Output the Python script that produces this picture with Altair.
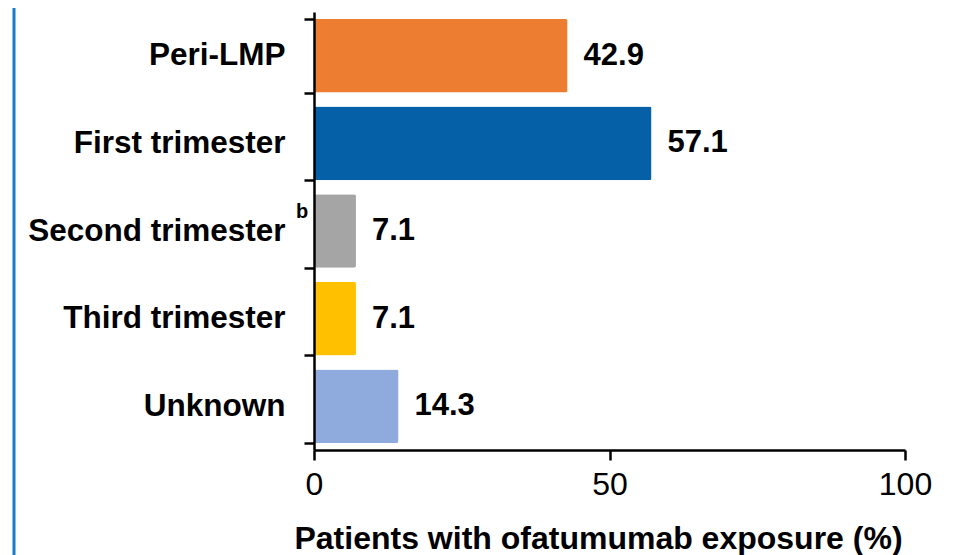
import altair as alt
import pandas as pd

categories = ["Peri-LMP", "First trimester", "Second trimester", "Third trimester", "Unknown"]
values = [42.9, 57.1, 7.1, 7.1, 14.3]
value_labels = ["42.9", "57.1", "7.1", "7.1", "14.3"]
footnotes = ["", "", "b", "", ""]
colors = ["#ED7D31", "#0560A8", "#A5A5A5", "#FFC000", "#8FAADC"]
x_ticks = [0, 50, 100]
x_title = "Patients with ofatumumab exposure (%)"

df = pd.DataFrame({"category": categories, "value": values,
                   "label": value_labels, "note": footnotes})

FONT = "Liberation Sans"

y_enc = alt.Y(
    "category:N", sort=categories, title=None,
    scale=alt.Scale(paddingInner=0.16, paddingOuter=0.08),
    axis=alt.Axis(
        tickBand="extent", labelFont=FONT, labelFontSize=31.5, labelFontWeight="bold",
        labelColor="black", tickSize=10, tickWidth=2.5, tickColor="black",
        domain=True, domainColor="black", domainWidth=2.5, labelPadding=19, labelLimit=400,
        grid=False, zindex=1,
    ),
)
x_enc = alt.X(
    "value:Q", scale=alt.Scale(domain=[0, 100]),
    axis=alt.Axis(
        values=x_ticks, title=x_title, grid=False, labelFlush=False,
        labelFont=FONT, labelFontSize=32, labelColor="black", labelPadding=9,
        tickSize=10, tickWidth=2.5, tickColor="black",
        domain=True, domainColor="black", domainWidth=2.5,
        titleFont=FONT, titleFontSize=32, titleFontWeight="bold", titleColor="black",
        titlePadding=23, titleX=284, titleAnchor="middle", titleAlign="center",
        zindex=1,
    ),
)

bars = alt.Chart(df).mark_bar(cornerRadius=2).encode(
    x=x_enc, y=y_enc,
    color=alt.Color("category:N", scale=alt.Scale(domain=categories, range=colors), legend=None),
)

text = alt.Chart(df).mark_text(
    align="left", baseline="middle", dx=16, fontSize=31, fontWeight="bold", font=FONT, color="black"
).encode(
    x="value:Q", y=alt.Y("category:N", sort=categories), text="label:N"
)

notes = alt.Chart(df).mark_text(
    align="left", baseline="middle", dy=-19, fontSize=20, fontWeight="bold", font=FONT, color="black"
).encode(
    x=alt.value(-18), y=alt.Y("category:N", sort=categories), text="note:N"
)

border = alt.Chart(pd.DataFrame({"d": [0]})).mark_rule(color="#1A7ACB", strokeWidth=3).encode(
    x=alt.value(-300), y=alt.value(-12), y2=alt.value(552)
)

chart = alt.layer(border, bars, text, notes).properties(
    width=591, height=438,
    autosize=alt.AutoSizeParams(type="none"),
    padding={"left": 306, "top": 4, "right": 40, "bottom": 110},
    background="white",
).configure_view(stroke=None)

chart.save("out.html", embed_options={"renderer": "svg", "actions": False})
